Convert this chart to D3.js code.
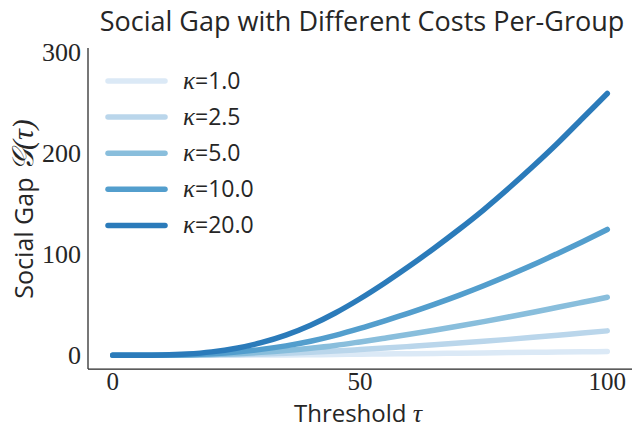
<!DOCTYPE html>
<html><head><meta charset="utf-8">
<script src="https://cdn.jsdelivr.net/npm/d3@7"></script>
<style>body{margin:0;background:#fff}svg{display:block}</style>
</head><body><svg id="c" width="632" height="430"></svg>
<script>
const tau = [0,5,10,15,20,25,30,35,40,45,50,55,60,65,70,75,80,85,90,95,100];
const kappas = ["1.0","2.5","5.0","10.0","20.0"];
const gapK1  = [0,0,0,0.05,0.1,0.2,0.3,0.45,0.6,0.85,1.1,1.35,1.6,1.85,2.1,2.4,2.7,2.95,3.2,3.5,3.75];
const gapK2  = [0,0,0.05,0.15,0.4,0.85,1.45,2.2,3.15,4.3,5.7,7.2,8.8,10.4,12.1,13.9,15.8,17.8,19.9,22,24.2];
const gapK5  = [0,0.01,0.08,0.3,0.8,1.65,2.95,4.7,7,9.8,13.3,17,20.8,24.8,29,33.4,38,42.7,47.6,52.5,57.4];
const gapK10 = [0,0.02,0.15,0.6,1.6,3.3,5.9,9.4,14,19.8,26.7,34.2,42,50.4,59.3,68.8,78.9,89.5,100.8,112.4,124.5];
const gapK20 = [0,0.05,0.35,1.35,3.45,7.05,12.5,20,29.8,41.9,56,71.6,88.3,106,124.5,144,165,187,210,234.5,259];
const series = [gapK1,gapK2,gapK5,gapK10,gapK20];
const colors = ["#dbe9f6","#bad6eb","#89bedc","#539ecd","#2b7bba"];
const xTicks = [0,50,100];
const yTicks = [0,100,200,300];

const svg = d3.select("#c");
const L=88, R=632, T=48, B=369;
const x = d3.scaleLinear().domain([-5,105]).range([L,R]);
const y = d3.scaleLinear().domain([-13.5,304]).range([B,T]);
const serif = "'Liberation Serif', serif";
const sans = "'Open Sans', Lato, sans-serif";
const ink = "#262626";

// title
svg.append("text").attr("x",(L+R)/2+2).attr("y",31).attr("text-anchor","middle")
  .attr("font-family",sans).attr("font-size",27).attr("fill",ink)
  .text("Social Gap with Different Costs Per-Group");

// axes lines
svg.append("line").attr("x1",L).attr("x2",L).attr("y1",T).attr("y2",B).attr("stroke",ink).attr("stroke-width",1.25);
svg.append("line").attr("x1",L).attr("x2",R).attr("y1",B).attr("y2",B).attr("stroke",ink).attr("stroke-width",1.25);

// tick labels
svg.selectAll(".xt").data(xTicks).join("text").attr("x",d=>x(d)).attr("y",390)
  .attr("text-anchor","middle").attr("font-family",serif).attr("font-size",25).attr("fill",ink).text(d=>d);
svg.selectAll(".yt").data(yTicks).join("text").attr("x",81).attr("y",d=>y(d)+9)
  .attr("text-anchor","end").attr("font-family",serif).attr("font-size",26).attr("fill",ink).text(d=>d);

// axis labels
const xl = svg.append("text").attr("x",358).attr("y",422).attr("text-anchor","middle")
  .attr("font-family",sans).attr("font-size",24).attr("fill",ink);
xl.append("tspan").text("Threshold ");
xl.append("tspan").attr("font-family",serif).attr("font-style","italic").attr("font-size",26).text("τ");

const yl = svg.append("text").attr("transform","translate(33,209) rotate(-90)").attr("text-anchor","middle")
  .attr("font-family",sans).attr("font-size",25).attr("fill",ink);
yl.append("tspan").text("Social Gap ");
yl.append("tspan").attr("font-family",serif).attr("font-style","italic").attr("font-size",30).text("𝒢(τ)");

// lines
const line = d3.line().x((d,i)=>x(tau[i])).y(d=>y(d)).curve(d3.curveMonotoneX);
svg.selectAll(".ln").data(series).join("path").attr("d",d=>line(d)).attr("fill","none")
  .attr("stroke",(d,i)=>colors[i]).attr("stroke-width",5.5).attr("stroke-linecap","round").attr("stroke-linejoin","round");

// legend
const lg = svg.append("g");
kappas.forEach((k,i)=>{
  const yy = 81 + i*36.1;
  lg.append("line").attr("x1",108).attr("x2",165).attr("y1",yy).attr("y2",yy)
    .attr("stroke",colors[i]).attr("stroke-width",5.5).attr("stroke-linecap","round");
  const t = lg.append("text").attr("x",183).attr("y",yy+8).attr("font-family",sans).attr("font-size",23).attr("fill",ink);
  t.append("tspan").attr("font-family",serif).attr("font-style","italic").attr("font-size",25).text("κ");
  t.append("tspan").text("="+k);
});
</script></body></html>
